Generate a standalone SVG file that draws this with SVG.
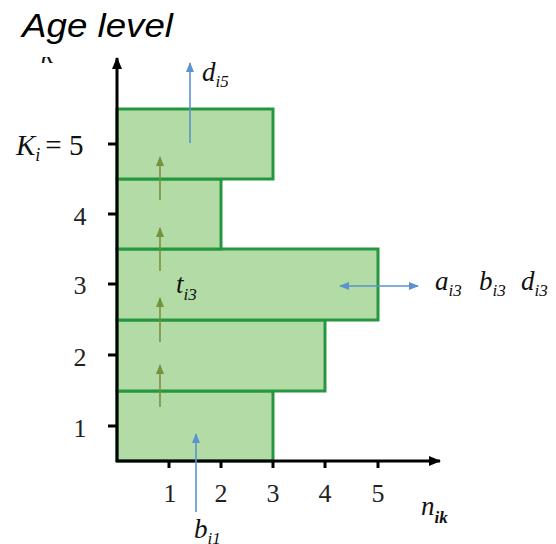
<svg xmlns="http://www.w3.org/2000/svg" width="556" height="544" viewBox="0 0 556 544">
<style>
.bar{fill:#b3dba6;stroke:#25983f;stroke-width:3}
.axis{stroke:#000;stroke-width:3;fill:none}
.tick{stroke:#000;stroke-width:3}
.olive{stroke:#76923c;stroke-width:1.6;fill:none}
.blue{stroke:#5b93cf;stroke-width:1.6;fill:none}
.num{font-family:"Liberation Serif",serif;font-size:26px;fill:#222}
.math{font-family:"Liberation Serif",serif;font-style:italic;fill:#111;font-size:27px}
.sub{font-size:17px}
</style>
<defs>
<marker id="ah" markerWidth="12" markerHeight="10" refX="11" refY="5" orient="auto" markerUnits="userSpaceOnUse"><path d="M0,0 L12,5 L0,10 Z" fill="#000"/></marker>
<marker id="og" markerWidth="10" markerHeight="10" refX="9" refY="5" orient="auto" markerUnits="userSpaceOnUse"><path d="M0,1 L10,5 L0,9 Z" fill="#76923c"/></marker>
<marker id="bl" markerWidth="10" markerHeight="10" refX="9" refY="5" orient="auto" markerUnits="userSpaceOnUse"><path d="M0,1 L10,5 L0,9 Z" fill="#5b93cf"/></marker>
<marker id="blr" markerWidth="10" markerHeight="10" refX="1" refY="5" orient="auto" markerUnits="userSpaceOnUse"><path d="M10,1 L0,5 L10,9 Z" fill="#5b93cf"/></marker>
<clipPath id="kclip"><rect x="30" y="57" width="40" height="10"/></clipPath>
</defs>
<rect width="556" height="544" fill="#fff"/>

<g id="bars">
<rect id="bar1" class="bar" x="117" y="391" width="156" height="70"/>
<rect id="bar2" class="bar" x="117" y="320" width="208" height="71"/>
<rect id="bar3" class="bar" x="117" y="249" width="261" height="71"/>
<rect id="bar4" class="bar" x="117" y="179" width="104" height="70"/>
<rect id="bar5" class="bar" x="117" y="109" width="156" height="70"/>
</g>

<g id="axes">
<line class="axis" x1="117" y1="462" x2="117" y2="58" marker-end="url(#ah)"/>
<line class="axis" x1="116" y1="461" x2="440" y2="461" marker-end="url(#ah)"/>
<line class="tick" x1="108" y1="426" x2="117" y2="426"/>
<line class="tick" x1="108" y1="355" x2="117" y2="355"/>
<line class="tick" x1="108" y1="284" x2="117" y2="284"/>
<line class="tick" x1="108" y1="214" x2="117" y2="214"/>
<line class="tick" x1="108" y1="144" x2="117" y2="144"/>
<line class="tick" x1="169" y1="461" x2="169" y2="468"/>
<line class="tick" x1="221" y1="461" x2="221" y2="468"/>
<line class="tick" x1="273" y1="461" x2="273" y2="468"/>
<line class="tick" x1="325" y1="461" x2="325" y2="468"/>
<line class="tick" x1="378" y1="461" x2="378" y2="468"/>
</g>

<g id="connectors">
<line class="olive" x1="160" y1="407" x2="160" y2="365" marker-end="url(#og)"/>
<line class="olive" x1="160" y1="342" x2="160" y2="298" marker-end="url(#og)"/>
<line class="olive" x1="160" y1="271" x2="160" y2="228" marker-end="url(#og)"/>
<line class="olive" x1="160" y1="200" x2="160" y2="157" marker-end="url(#og)"/>
<line class="blue" x1="190" y1="143" x2="190" y2="63" marker-end="url(#bl)"/>
<line class="blue" x1="196" y1="512" x2="196" y2="434" marker-end="url(#bl)"/>
<line class="blue" x1="340" y1="286" x2="418" y2="286" marker-start="url(#blr)" marker-end="url(#bl)"/>
</g>

<g id="labels">
<text x="22" y="37" font-family="Liberation Sans, Arial, sans-serif" font-style="italic" font-size="34" textLength="151" lengthAdjust="spacingAndGlyphs" fill="#000">Age level</text>
<text class="math" x="41" y="63" font-size="20" clip-path="url(#kclip)">k</text>
<text class="num" x="80" y="437" text-anchor="middle">1</text>
<text class="num" x="80" y="366" text-anchor="middle">2</text>
<text class="num" x="80" y="294" text-anchor="middle">3</text>
<text class="num" x="80" y="225" text-anchor="middle">4</text>
<text x="16" y="155" font-family="Liberation Serif, serif" font-size="29" fill="#111"><tspan font-style="italic">K</tspan><tspan font-style="italic" font-size="18" dy="6">i</tspan><tspan dy="-6" dx="5">= 5</tspan></text>
<text class="num" x="170" y="502" text-anchor="middle">1</text>
<text class="num" x="221" y="502" text-anchor="middle">2</text>
<text class="num" x="273" y="502" text-anchor="middle">3</text>
<text class="num" x="325" y="502" text-anchor="middle">4</text>
<text class="num" x="378" y="502" text-anchor="middle">5</text>
<text class="math" x="202" y="81">d<tspan class="sub" dy="6">i5</tspan></text>
<text class="math" x="176" y="293">t<tspan class="sub" dy="7">i3</tspan></text>
<text class="math" x="435" y="290">a<tspan class="sub" dy="6">i3</tspan></text>
<text class="math" x="479" y="290">b<tspan class="sub" dy="6">i3</tspan></text>
<text class="math" x="521" y="290">d<tspan class="sub" dy="6">i3</tspan></text>
<text class="math" x="421" y="515">n<tspan class="sub" dy="8" font-weight="bold">ik</tspan></text>
<text class="math" x="194" y="538">b<tspan class="sub" dy="6">i1</tspan></text>
</g>
</svg>
